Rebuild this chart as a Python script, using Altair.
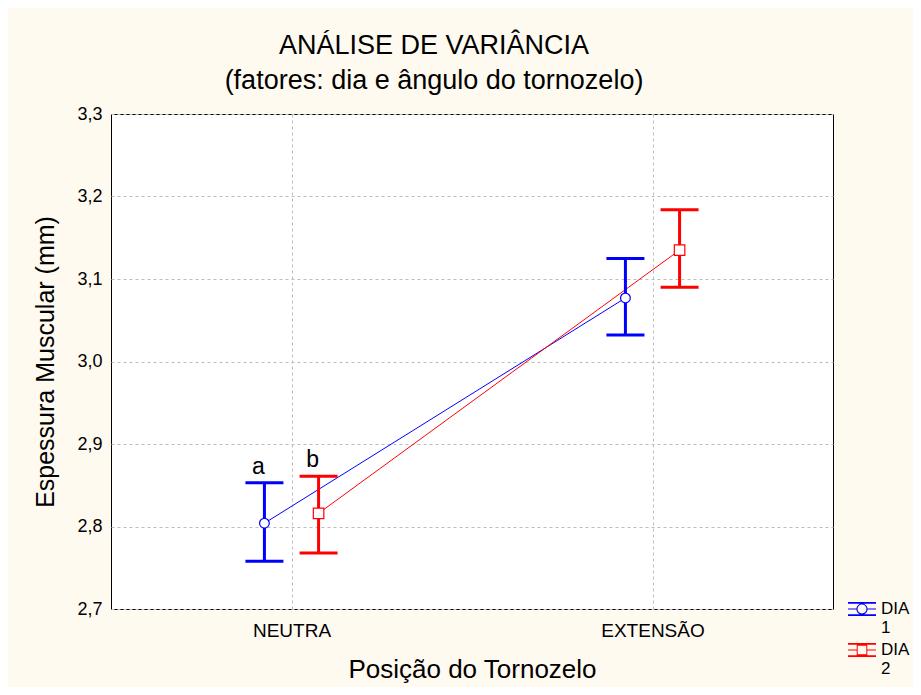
import altair as alt
import pandas as pd

# ---- data ----
POSICOES = ["NEUTRA", "EXTENSÃO"]
DIAS = ["1", "2"]
MEDIA_DIA1 = [2.804, 3.077]
MEDIA_DIA2 = [2.816, 3.135]
INF_DIA1 = [2.758, 3.032]
INF_DIA2 = [2.768, 3.090]
SUP_DIA1 = [2.853, 3.125]
SUP_DIA2 = [2.861, 3.184]
LETRAS_DIA1 = ["a", ""]
LETRAS_DIA2 = ["b", ""]
Y_TICKS = [2.7, 2.8, 2.9, 3.0, 3.1, 3.2, 3.3]
CORES = ["#0000FF", "#FF0000"]

rows = []
for dia, med, inf, sup, let in [
    ("1", MEDIA_DIA1, INF_DIA1, SUP_DIA1, LETRAS_DIA1),
    ("2", MEDIA_DIA2, INF_DIA2, SUP_DIA2, LETRAS_DIA2),
]:
    for i, pos in enumerate(POSICOES):
        rows.append({"posicao": pos, "dia": dia, "media": med[i],
                     "inf": inf[i], "sup": sup[i], "letra": let[i]})
df = pd.DataFrame(rows)

FONT = "Liberation Sans"
cat_expr = "indexof(" + str(POSICOES).replace("'", '"') + ", datum.posicao)"
label_expr = "[" + ", ".join('"%s"' % p for p in POSICOES) + "][datum.value]"

# legend symbols: error bar + circle / square, as filled paths
SYM_CIRCLE = ("M-1,-0.5H1V-0.37H-1Z M-1,0.37H1V0.5H-1Z "
              "M-1,-0.04H-0.4V0.04H-1Z M0.4,-0.04H1V0.04H0.4Z "
              "M0.4,0A0.4,0.4,0,1,1,-0.4,0A0.4,0.4,0,1,1,0.4,0Z "
              "M0.32,0A0.32,0.32,0,1,0,-0.32,0A0.32,0.32,0,1,0,0.32,0Z")
SYM_SQUARE = ("M-1,-0.5H1V-0.37H-1Z M-1,0.37H1V0.5H-1Z "
              "M-1,-0.04H-0.38V0.04H-1Z M0.38,-0.04H1V0.04H0.38Z "
              "M-0.38,-0.38H0.38V0.38H-0.38Z "
              "M-0.31,-0.31V0.31H0.31V-0.31Z")

color_nolegend = alt.Color("dia:N", scale=alt.Scale(domain=DIAS, range=CORES), legend=None)

xenc = alt.X("xpos:Q",
             scale=alt.Scale(domain=[-0.5, 1.5], nice=False, zero=False),
             axis=alt.Axis(values=[0, 1], labelExpr=label_expr, title="Posição do Tornozelo",
                           grid=True, gridDash=[3, 3], gridColor="#BEBEBE", ticks=False,
                           domain=False, labelFontSize=19, labelPadding=12,
                           titleFontSize=26, titlePadding=16, labelFont=FONT, titleFont=FONT,
                           titleFontWeight="normal", labelColor="black", titleColor="black"))
yscale = alt.Scale(domain=[2.7, 3.3], nice=False, zero=False)
yaxis = alt.Axis(values=Y_TICKS, labelExpr="replace(format(datum.value, '.1f'), '.', ',')",
                 title="Espessura Muscular (mm)", grid=True, gridDash=[3, 3], gridColor="#BEBEBE",
                 ticks=False, domain=False, labelFontSize=18, labelPadding=9,
                 titleFontSize=25, titlePadding=18, labelFont=FONT, titleFont=FONT,
                 titleFontWeight="normal", labelColor="black", titleColor="black")

base = alt.Chart(df).transform_calculate(
    xpos=cat_expr + " + (datum.dia == '1' ? -0.075 : 0.075)"
)

linhas = base.mark_line(strokeWidth=1).encode(
    x=xenc, y=alt.Y("media:Q", scale=yscale, axis=yaxis), color=color_nolegend,
    order="xpos:Q")

hastes = base.mark_rule(strokeWidth=3).encode(
    x="xpos:Q", y="inf:Q", y2="sup:Q", color=color_nolegend)

caps = base.transform_fold(["inf", "sup"], as_=["lim", "valor"]).mark_tick(
    orient="horizontal", size=38, thickness=3, opacity=1).encode(
    x="xpos:Q", y="valor:Q", color=color_nolegend)

circ = base.transform_filter("datum.dia == '1'").mark_point(
    shape="circle", filled=False, fill="white", size=95, strokeWidth=1.2, opacity=1).encode(
    x="xpos:Q", y="media:Q", color=color_nolegend)

quad = base.transform_filter("datum.dia == '2'").mark_point(
    shape="square", filled=False, fill="white", size=110, strokeWidth=1.2, opacity=1).encode(
    x="xpos:Q", y="media:Q", color=color_nolegend)

letras = base.transform_filter("datum.letra != ''").mark_text(
    fontSize=23, font=FONT, dx=-6, dy=-9, baseline="alphabetic", color="black").encode(
    x="xpos:Q", y="sup:Q", text="letra:N")

leg = alt.Legend(title=None, orient="none", legendX=737, legendY=481,
                 labelExpr="['DIA', datum.label]", labelFontSize=17, labelFont=FONT,
                 labelColor="black", symbolSize=784, symbolStrokeWidth=0,
                 rowPadding=-5, labelOffset=5, padding=0, labelLimit=100)
# legend-carrying layer: zero-size points (invisible), legend symbols sized explicitly
legenda = base.mark_point(filled=True, size=0, opacity=1, strokeWidth=0).encode(
    x="xpos:Q", y="media:Q",
    color=alt.Color("dia:N", scale=alt.Scale(domain=DIAS, range=CORES), legend=leg),
    shape=alt.Shape("dia:N", scale=alt.Scale(domain=DIAS, range=[SYM_CIRCLE, SYM_SQUARE]),
                    legend=leg))

chart = alt.layer(legenda, linhas, hastes, caps, circ, quad, letras).properties(
    width=722, height=495,
    title=alt.Title(["ANÁLISE DE VARIÂNCIA", "(fatores: dia e ângulo do tornozelo)"],
                    fontSize=27, font=FONT, fontWeight="normal", color="black",
                    anchor="middle", frame="group", dx=-38, offset=10, lineHeight=35),
    autosize=alt.AutoSizeParams(type="none"),
    padding={"left": 103, "top": 106, "right": 80, "bottom": 78},
    background="#FFFAF0",
).configure_view(stroke="black", strokeWidth=1, fill="white")

chart.save("out.html", embed_options={"renderer": "svg", "actions": False})
